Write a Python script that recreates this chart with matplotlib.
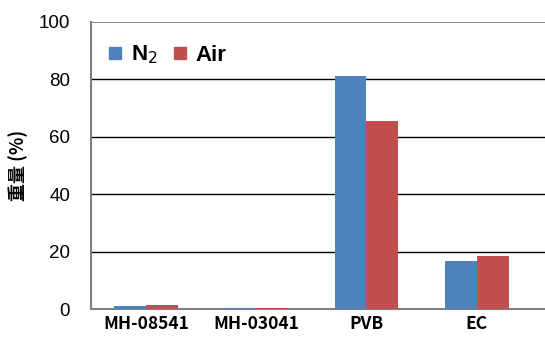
import numpy as np
import matplotlib.pyplot as plt

categories = ['MH-08541', 'MH-03041', 'PVB', 'EC']
n2_vals = [1.0, 0.4, 81.0, 16.7]
air_vals = [1.3, 0.4, 65.5, 18.3]
yticks = [0, 20, 40, 60, 80, 100]

blue = '#4F81BD'
red = '#C0504D'

fig = plt.figure(figsize=(5.45, 3.37), dpi=100)
ax = fig.add_axes([0.167, 0.083, 0.833, 0.852])

x = np.arange(len(categories))
w = 0.29
ax.bar(x - w/2, n2_vals, w, color=blue, zorder=3)
ax.bar(x + w/2, air_vals, w, color=red, zorder=3)

ax.set_ylim(0, 100)
ax.set_xlim(-0.5, 3.62)
ax.set_yticks(yticks)
for v in yticks[1:-1]:
    ax.axhline(v, color='black', lw=1.0, zorder=1)
ax.axhline(100, color='#707070', lw=1.2, zorder=1)

ax.set_xticks(x)
ax.set_xticklabels(categories, family=['Noto Sans CJK JP', 'DejaVu Sans'],
                   fontsize=12.5, fontweight='bold')
for lab in ax.get_yticklabels():
    lab.set_family('Liberation Sans')
    lab.set_fontsize(13.5)
ax.tick_params(axis='both', length=0)
ax.tick_params(axis='y', pad=15)
ax.tick_params(axis='x', pad=4)

for s in ['top', 'right']:
    ax.spines[s].set_visible(False)
for s in ['left', 'bottom']:
    ax.spines[s].set_color('#808080')
    ax.spines[s].set_linewidth(1.5)

ax.set_ylabel('重量 (%)', family=['Noto Sans CJK JP', 'DejaVu Sans'],
              fontsize=13, fontweight='bold', labelpad=8)

h1 = plt.Line2D([], [], marker='s', ls='', color=blue, markersize=9)
h2 = plt.Line2D([], [], marker='s', ls='', color=red, markersize=9)
ax.legend([h1, h2], ['N$_2$', 'Air'], loc='upper left', ncol=2, frameon=False,
          prop={'family': 'Liberation Sans', 'weight': 'bold', 'size': 16},
          handlelength=1.0, handletextpad=0.2, columnspacing=0.5,
          borderaxespad=0.2, bbox_to_anchor=(0.0, 0.97))

fig.savefig('out.png', dpi=100)
